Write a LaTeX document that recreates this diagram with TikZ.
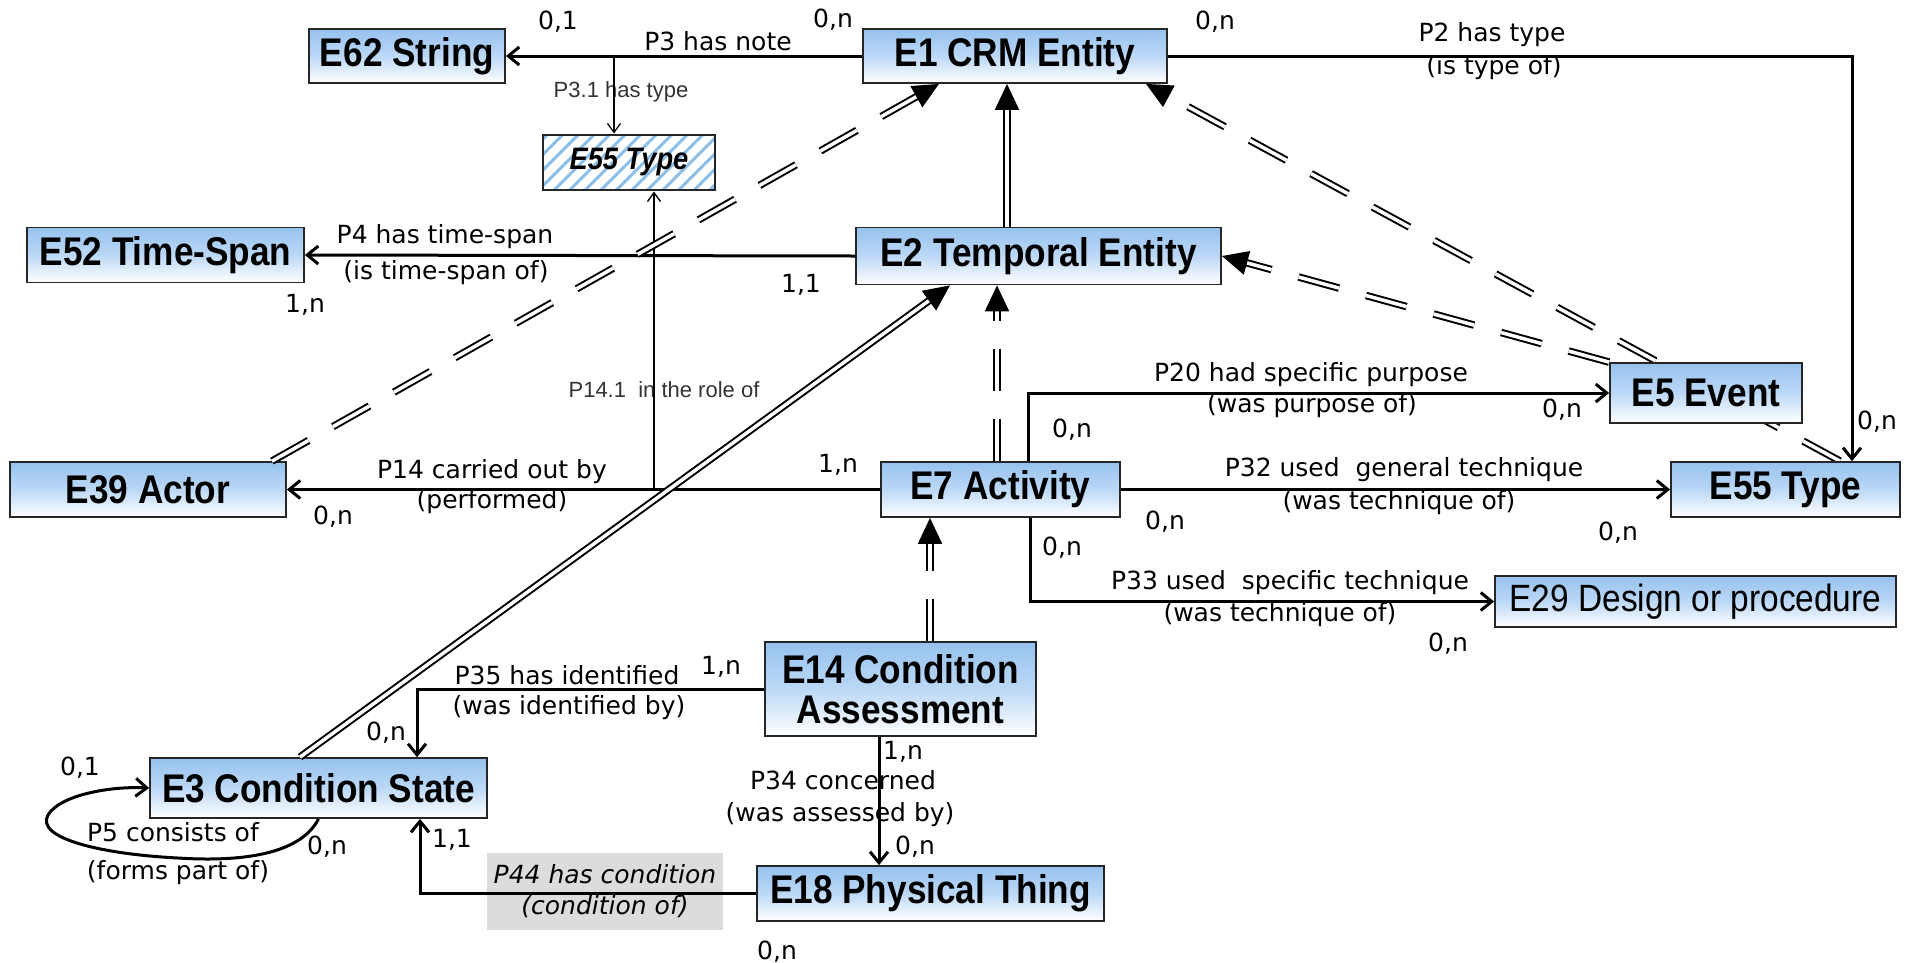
\documentclass[tikz,border=0pt]{standalone}
\usepackage{fontspec}
\setmainfont{Liberation Sans}
\newfontfamily\labfont{DejaVu Sans}
\newfontfamily\entfont[FakeStretch=0.88]{Liberation Sans}
\usetikzlibrary{arrows.meta,patterns.meta,calc}
\definecolor{nodetop}{RGB}{150,194,238}
\definecolor{nodemid}{RGB}{188,216,246}
\definecolor{hatchblue}{RGB}{140,190,230}
\definecolor{graybox}{RGB}{220,220,220}
\pgfdeclarelayer{background}
\pgfsetlayers{background,main}
\tikzset{
  ent/.style={draw=black!85, line width=1.8pt, top color=nodetop, bottom color=white, middle color=nodemid,
    inner sep=0pt, align=center, font=\entfont\fontsize{40}{40}\selectfont\bfseries},
  hatchent/.style={draw=black!85, line width=1.8pt, pattern={Lines[angle=45,distance=11pt,line width=3pt]},
    pattern color=hatchblue, inner sep=0pt, font=\entfont\fontsize{31}{34}\selectfont\bfseries\itshape},
  lab/.style={inner sep=0pt, font=\labfont\fontsize{25}{30}\selectfont},
  thinlab/.style={inner sep=0pt, font=\fontsize{22}{26}\selectfont, text=black!80},
  rel/.style={line width=3pt, -{Straight Barb[length=11pt,width=18pt]}},
  thinrel/.style={line width=1.3pt, -{Straight Barb[length=9pt,width=13pt]}},
  isa/.style={draw=black, line width=2pt, double=white, double distance=3.5pt, -{Triangle[length=26pt,width=24pt]}},
  isadash/.style={isa, dash pattern=on 42pt off 28pt}
}
\begin{document}
\begin{tikzpicture}[x=1pt,y=-1pt]
\useasboundingbox (0,0) rectangle (1916,962);
% label box behind P44
\node[fill=graybox, minimum width=236pt, minimum height=77pt, inner sep=0pt, align=center,
  font=\labfont\itshape\fontsize{25}{31}\selectfont] (P44box) at (605,891.5) {P44 has condition\\(condition of)};
% entities
\node[ent, minimum width=196pt, minimum height=54pt] (E62) at (407,56) {E62 String};
\node[ent, minimum width=304pt, minimum height=54pt] (E1) at (1015,56) {E1 CRM Entity};
\node[hatchent, minimum width=172pt, minimum height=55pt] (E55h) at (629,162.5) {E55 Type};
\node[ent, minimum width=277pt, minimum height=55pt] (E52) at (165.5,255) {E52 Time-Span};
\node[ent, minimum width=365pt, minimum height=57pt] (E2) at (1038.5,256) {E2 Temporal Entity};
\node[ent, minimum width=192pt, minimum height=60pt] (E5) at (1706,393) {E5 Event};
\node[ent, minimum width=276pt, minimum height=55pt] (E39) at (148,489.5) {E39 Actor};
\node[ent, minimum width=239pt, minimum height=55pt] (E7) at (1000.5,489.5) {E7 Activity};
\node[ent, minimum width=229pt, minimum height=55pt] (E55R) at (1785.5,489.5) {E55 Type};
\node[ent, minimum width=401pt, minimum height=51pt, font=\entfont\fontsize{38}{40}\selectfont] (E29) at (1695.5,601.5) {E29 Design or procedure};
\node[ent, minimum width=271pt, minimum height=94pt] (E14) at (900.5,689) {E14 Condition\\Assessment};
\node[ent, minimum width=337pt, minimum height=60pt] (E3) at (318.5,788) {E3 Condition State};
\node[ent, minimum width=347pt, minimum height=55pt] (E18) at (930.5,893.5) {E18 Physical Thing};
% labels
\node[lab] (l01) at (558,22) {0,1};
\node[lab] (l02) at (718,41) {P3 has note};
\node[lab] (l03) at (833,20) {0,n};
\node[lab] (l04) at (1215,22) {0,n};
\node[lab] (l05) at (1492,35) {P2 has type};
\node[lab] (l06) at (1494,68) {(is type of)};
\node[thinlab] (l07) at (621,92) {P3.1 has type};
\node[lab] (l08) at (445,237) {P4 has time-span};
\node[lab] (l09) at (446,273) {(is time-span of)};
\node[lab] (l10) at (305,305) {1,n};
\node[lab] (l11) at (801,285) {1,1};
\node[thinlab] (l12) at (664,390) {P14.1\ \ in the role of};
\node[lab] (l13) at (1311,375) {P20 had specific purpose};
\node[lab] (l14) at (1312,406) {(was purpose of)};
\node[lab] (l15) at (1072,430) {0,n};
\node[lab] (l16) at (1562,410) {0,n};
\node[lab] (l17) at (1877,422) {0,n};
\node[lab] (l18) at (838,465) {1,n};
\node[lab] (l19) at (492,472) {P14 carried out by};
\node[lab] (l20) at (492,502) {(performed)};
\node[lab] (l21) at (333,517) {0,n};
\node[lab] (l22) at (1404,470) {P32 used\ \ general technique};
\node[lab] (l23) at (1399,503) {(was technique of)};
\node[lab] (l24) at (1165,522) {0,n};
\node[lab] (l25) at (1618,533) {0,n};
\node[lab] (l26) at (1062,548) {0,n};
\node[lab] (l27) at (1290,583) {P33 used\ \ specific technique};
\node[lab] (l28) at (1280,615) {(was technique of)};
\node[lab] (l29) at (1448,644) {0,n};
\node[lab] (l30) at (721,667) {1,n};
\node[lab] (l31) at (567,675) {P35 has identified};
\node[lab] (l32) at (569,708) {(was identified by)};
\node[lab] (l33) at (386,733) {0,n};
\node[lab] (l34) at (903,752) {1,n};
\node[lab] (l35) at (80,768) {0,1};
\node[lab] (l36) at (843,780) {P34 concerned};
\node[lab] (l37) at (840,815) {(was assessed by)};
\node[lab] (l38) at (173,832) {P5 consists of};
\node[lab] (l39) at (178,873) {(forms part of)};
\node[lab] (l40) at (327,847) {0,n};
\node[lab] (l41) at (452,840) {1,1};
\node[lab] (l42) at (915,847) {0,n};
\node[lab] (l43) at (777,952) {0,n};
% helper coordinates
\coordinate (p31) at (614,56);
\coordinate (p141) at (654,489.5);
\coordinate (p34) at ([xshift=-21.5pt]E14.south);
\coordinate (c21) at (1007,170);
\coordinate (c72) at (997,370);
\coordinate (c147) at (930,600);
% relations
\draw[rel] (E1.west) -- (E62.east);
\draw[thinrel] (p31) -- (p31 |- E55h.north);
\draw[rel] (E1.east) -| ([xshift=66.5pt]E55R.north);
\draw[rel] (E2.west) -- (E52.east);
\draw[rel] (E7.west) -- (E39.east);
\draw[thinrel] (p141) -- (p141 |- E55h.south);
\draw[rel] ([xshift=27.5pt]E7.north) |- (E5.west);
\draw[rel] (E7.east) -- (E55R.west);
\draw[rel] ([xshift=29.5pt]E7.south) |- (E29.west);
\draw[rel] (E14.west) -| ([xshift=98.5pt]E3.north);
\draw[rel] (p34) -- (p34 |- E18.north);
\draw[rel] (E18.west) -| ([xshift=101.5pt]E3.south);
\draw[rel] (E3.south) .. controls (300,855) and (240,862) .. (178,858)
  .. controls (100,854) and (35,838) .. (48,815)
  .. controls (60,795) and (110,786) .. (E3.west);
% is-a links
\draw[isa] (c21 |- E2.north) -- (c21 |- E1.south);
\draw[isadash] (c72 |- E7.north) -- (c72 |- E2.south);
\draw[isadash] (c147 |- E14.north) -- (c147 |- E7.south);
\draw[isa] ([xshift=-18.5pt]E3.north) -- ([xshift=-88.5pt]E2.south);
\draw[isadash] ([xshift=124pt]E39.north) -- ([xshift=-76pt]E1.south);
\draw[isadash] (E5.north west) -- (E2.east);
\begin{pgfonlayer}{background}
\draw[isadash] ([xshift=54.5pt]E55R.north) -- ([xshift=131pt]E1.south);
\end{pgfonlayer}
\end{tikzpicture}
\end{document}
